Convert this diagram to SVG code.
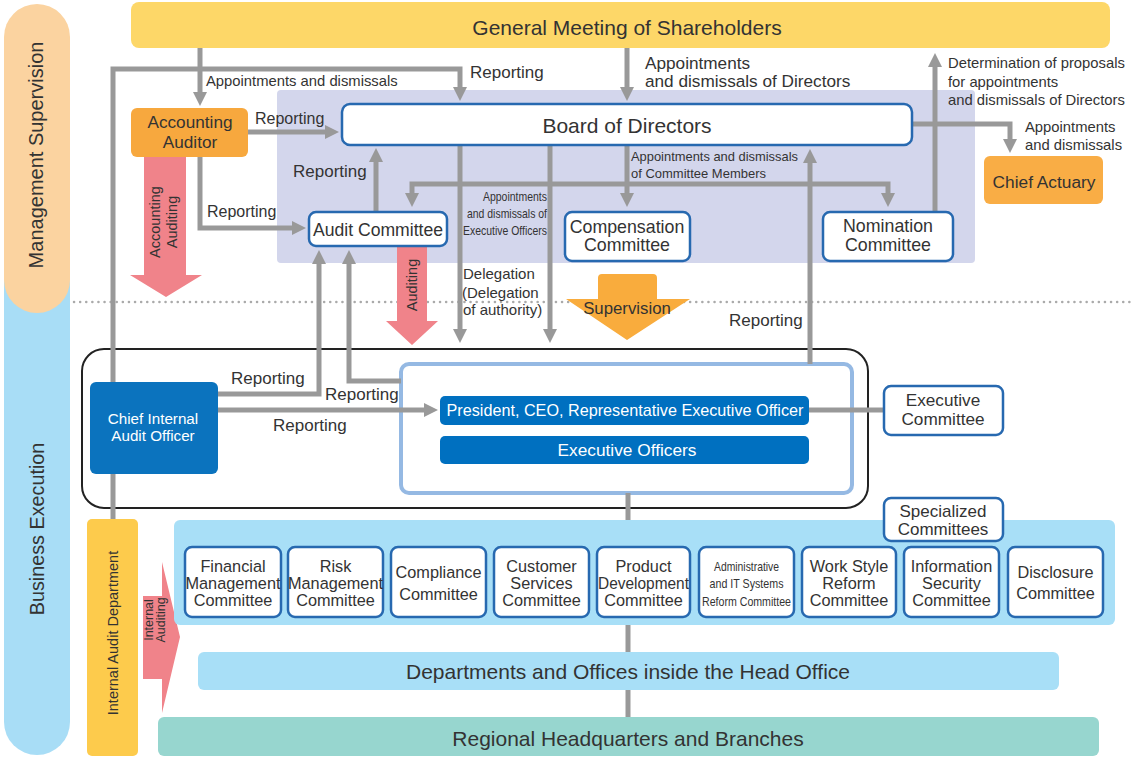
<svg xmlns="http://www.w3.org/2000/svg" width="1132" height="757" viewBox="0 0 1132 757">
<style>
.t{font-family:"Liberation Sans",Arial,sans-serif;fill:#333}
.w{font-family:"Liberation Sans",Arial,sans-serif;fill:#fff}
.m{text-anchor:middle}
.e{text-anchor:end}
.g{stroke:#999;stroke-width:5;fill:none}
.a{marker-end:url(#ah)}
.box{fill:#fff;stroke:#2769B0;stroke-width:2.5}
.cm{fill:#fff;stroke:#2769B0;stroke-width:2.5}
.red{fill:#F0838A}
.ct{font-size:16.3px}
</style>
<defs>
<marker id="ah" markerUnits="userSpaceOnUse" markerWidth="14" markerHeight="14" viewBox="0 0 14 14" refX="5" refY="7" orient="auto">
<path d="M0,0 L14,7 L0,14 z" fill="#999"/>
</marker>
</defs>

<g id="bands">
<rect x="4" y="250" width="66" height="505" rx="33" fill="#A8DDF6"/>
<rect x="4" y="4" width="66" height="309" rx="33" fill="#FBD3A0"/>
<text class="t m" font-size="20" transform="translate(43,155) rotate(-90)">Management Supervision</text>
<text class="t m" font-size="19.8" transform="translate(44,529) rotate(-90)">Business Execution</text>
<line x1="74" y1="302" x2="1132" y2="302" stroke="#aaa" stroke-width="2.5" stroke-dasharray="0.1 6" stroke-linecap="round"/>
<rect x="277" y="90" width="698" height="173" rx="4" fill="#D3D6EC"/>
</g>

<g id="execution-frame">
<rect x="82" y="349" width="786" height="159" rx="22" fill="none" stroke="#222" stroke-width="2"/>
<rect x="401" y="364" width="451" height="129" rx="8" fill="#fff" stroke="#95B9E3" stroke-width="4"/>
</g>

<g id="connectors">
<path class="g a" d="M200,48 V97"/>
<path class="g a" d="M113,519 V69 H460 V92"/>
<path class="g a" d="M627,48 V92"/>
<path class="g a" d="M935,212 V62"/>
<path class="g a" d="M912,124 H1010 V144"/>
<path class="g a" d="M248,132 H330"/>
<path class="g a" d="M200,157 V228 H297"/>
<path class="g a" d="M376,212 V157"/>
<path class="g a" d="M627,145 V198"/>
<path class="g a" d="M627,184 H412 V198"/>
<path class="g a" d="M627,184 H888 V198"/>
<path class="g a" d="M460,145 V334"/>
<path class="g a" d="M550,145 V334"/>
<path class="g a" d="M810,364 V158"/>
<path class="g a" d="M218,394 H319 V259"/>
<path class="g a" d="M401,381 H349 V259"/>
<path class="g a" d="M218,410 H429"/>
<path class="g" d="M808,410 H884"/>
<path class="g" d="M628,493 V717"/>
</g>

<g id="connector-labels">
<text class="t" font-size="14.8" x="206" y="86">Appointments and dismissals</text>
<text class="t" font-size="17" x="470" y="78">Reporting</text>
<text class="t" font-size="17.2" x="645" y="69">Appointments</text>
<text class="t" font-size="17.2" x="645" y="87">and dismissals of Directors</text>
<text class="t" font-size="14.8" x="948" y="68">Determination of proposals</text>
<text class="t" font-size="14.8" x="948" y="87">for appointments</text>
<text class="t" font-size="14.8" x="948" y="105">and dismissals of Directors</text>
<text class="t" font-size="14.8" x="1025" y="132">Appointments</text>
<text class="t" font-size="14.8" x="1025" y="150">and dismissals</text>
<text class="t" font-size="16" x="255" y="124">Reporting</text>
<text class="t" font-size="17" x="293" y="177">Reporting</text>
<text class="t" font-size="16" x="207" y="217">Reporting</text>
<text class="t" font-size="13" x="631" y="161" textLength="167" lengthAdjust="spacingAndGlyphs">Appointments and dismissals</text>
<text class="t" font-size="13" x="631" y="178" textLength="135" lengthAdjust="spacingAndGlyphs">of Committee Members</text>
<text class="t e" font-size="13" x="547" y="201" textLength="64" lengthAdjust="spacingAndGlyphs">Appointments</text>
<text class="t e" font-size="13" x="547" y="218" textLength="80" lengthAdjust="spacingAndGlyphs">and dismissals of</text>
<text class="t e" font-size="13" x="547" y="235" textLength="84" lengthAdjust="spacingAndGlyphs">Executive Officers</text>
<text class="t" font-size="15" x="463" y="279">Delegation</text>
<text class="t" font-size="15" x="462" y="298">(Delegation</text>
<text class="t" font-size="15" x="463" y="315">of authority)</text>
<text class="t" font-size="17" x="729" y="326">Reporting</text>
<text class="t" font-size="17" x="231" y="384">Reporting</text>
<text class="t" font-size="17" x="325" y="400">Reporting</text>
<text class="t" font-size="17" x="273" y="431">Reporting</text>
</g>

<g id="accounting-auditing-arrow">
<path class="red" d="M144,157 H186 V275 H202 L166,297 L130,275 H144 Z"/>
<text class="t m" font-size="14.5" transform="translate(160,222) rotate(-90)">Accounting</text>
<text class="t m" font-size="14.5" transform="translate(177,222) rotate(-90)">Auditing</text>
</g>
<g id="auditing-arrow">
<path class="red" d="M397,246 H427 V321 H438 L412,345 L386,321 H397 Z"/>
<text class="t m" font-size="14.5" transform="translate(417,285) rotate(-90)">Auditing</text>
</g>
<g id="supervision-arrow">
<path d="M602,274 H653 Q657,274 657,278 V299 H690 L627,340 L566,299 H598 V278 Q598,274 602,274 Z" fill="#F9AC3D"/>
<text class="t m" font-size="16.8" x="627" y="314">Supervision</text>
</g>
<g id="internal-auditing-arrow">
<path class="red" d="M143,596 H162 V562 L180,637 L162,713 V679 H143 Z"/>
<text class="t m" font-size="12.5" transform="translate(153,620) rotate(-90)">Internal</text>
<text class="t m" font-size="12.5" transform="translate(165,620) rotate(-90)">Auditing</text>
</g>

<g id="general-meeting">
<rect x="131" y="2" width="979" height="46" rx="8" fill="#FDD768"/>
<text class="t m" font-size="21" x="627" y="35">General Meeting of Shareholders</text>
</g>
<g id="board">
<rect class="box" x="342" y="104" width="570" height="41" rx="8"/>
<text class="t m" font-size="21" x="627" y="133">Board of Directors</text>
</g>
<g id="accounting-auditor">
<rect x="131" y="108" width="117" height="49" rx="6" fill="#F7A83E"/>
<text class="t m" font-size="17.2" x="190" y="128">Accounting</text>
<text class="t m" font-size="17.2" x="190" y="148">Auditor</text>
</g>
<g id="chief-actuary">
<rect x="984" y="156" width="119" height="48" rx="6" fill="#F9AD45"/>
<text class="t m" font-size="17.3" x="1044" y="188">Chief Actuary</text>
</g>
<g id="audit-committee">
<rect class="box" x="309" y="212" width="138" height="34" rx="7"/>
<text class="t m" font-size="17.6" x="378" y="236">Audit Committee</text>
</g>
<g id="compensation-committee">
<rect class="box" x="565" y="212" width="125" height="49" rx="7"/>
<text class="t m" font-size="17.8" x="627" y="233">Compensation</text>
<text class="t m" font-size="17.8" x="627" y="251">Committee</text>
</g>
<g id="nomination-committee">
<rect class="box" x="823" y="212" width="130" height="49" rx="7"/>
<text class="t m" font-size="17.8" x="888" y="232">Nomination</text>
<text class="t m" font-size="17.8" x="888" y="251">Committee</text>
</g>

<g id="chief-internal-audit-officer">
<rect x="90" y="382" width="128" height="92" rx="6" fill="#0B73BE"/>
<text class="w m" font-size="15.2" x="153" y="424">Chief Internal</text>
<text class="w m" font-size="15.2" x="153" y="441">Audit Officer</text>
</g>
<g id="president">
<rect x="440" y="396" width="369" height="29" rx="5" fill="#0070C0"/>
<text class="w m" font-size="16.2" x="625" y="416">President, CEO, Representative Executive Officer</text>
</g>
<g id="executive-officers">
<rect x="440" y="436" width="369" height="28" rx="5" fill="#0070C0"/>
<text class="w m" font-size="17.3" x="627" y="456">Executive Officers</text>
</g>
<g id="executive-committee">
<rect class="box" x="884" y="386" width="119" height="49" rx="7"/>
<text class="t m" font-size="17.2" x="943" y="406">Executive</text>
<text class="t m" font-size="17.2" x="943" y="425">Committee</text>
</g>

<g id="internal-audit-department">
<rect x="87" y="519" width="51" height="237" rx="5" fill="#FDCB4C"/>
<text class="t m" font-size="14.5" transform="translate(118,633) rotate(-90)">Internal Audit Department</text>
</g>

<g id="specialized-area">
<rect x="174" y="520" width="941" height="105" rx="6" fill="#A8DFF7"/>
</g>
<g id="specialized-committees">
<rect class="box" x="884" y="498" width="119" height="43" rx="7"/>
<text class="t m" font-size="17" x="943" y="517">Specialized</text>
<text class="t m" font-size="17" x="943" y="535">Committees</text>
</g>
<g id="financial-management-committee">
<rect class="cm" x="185" y="547" width="96" height="70" rx="7"/>
<text class="t m ct" x="233" y="572">Financial</text>
<text class="t m ct" x="233" y="589">Management</text>
<text class="t m ct" x="233" y="606">Committee</text>
</g>
<g id="risk-management-committee">
<rect class="cm" x="288" y="547" width="95" height="70" rx="7"/>
<text class="t m ct" x="335.5" y="572">Risk</text>
<text class="t m ct" x="335.5" y="589">Management</text>
<text class="t m ct" x="335.5" y="606">Committee</text>
</g>
<g id="compliance-committee">
<rect class="cm" x="391" y="547" width="95" height="70" rx="7"/>
<text class="t m ct" x="438.5" y="578">Compliance</text>
<text class="t m ct" x="438.5" y="600">Committee</text>
</g>
<g id="customer-services-committee">
<rect class="cm" x="494" y="547" width="95" height="70" rx="7"/>
<text class="t m ct" x="541.5" y="572">Customer</text>
<text class="t m ct" x="541.5" y="589">Services</text>
<text class="t m ct" x="541.5" y="606">Committee</text>
</g>
<g id="product-development-committee">
<rect class="cm" x="597" y="547" width="93" height="70" rx="7"/>
<text class="t m ct" x="643.5" y="572">Product</text>
<text class="t m ct" x="643.5" y="589" textLength="91" lengthAdjust="spacingAndGlyphs">Development</text>
<text class="t m ct" x="643.5" y="606">Committee</text>
</g>
<g id="administrative-it-systems-reform-committee">
<rect class="cm" x="699" y="547" width="95" height="70" rx="7"/>
<text class="t m" font-size="13" x="746.5" y="571" textLength="65" lengthAdjust="spacingAndGlyphs">Administrative</text>
<text class="t m" font-size="13" x="746.5" y="588" textLength="74" lengthAdjust="spacingAndGlyphs">and IT Systems</text>
<text class="t m" font-size="13" x="746.5" y="606" textLength="89" lengthAdjust="spacingAndGlyphs">Reform Committee</text>
</g>
<g id="work-style-reform-committee">
<rect class="cm" x="802" y="547" width="94" height="70" rx="7"/>
<text class="t m ct" x="849" y="572">Work Style</text>
<text class="t m ct" x="849" y="589">Reform</text>
<text class="t m ct" x="849" y="606">Committee</text>
</g>
<g id="information-security-committee">
<rect class="cm" x="904" y="547" width="95" height="70" rx="7"/>
<text class="t m ct" x="951.5" y="572">Information</text>
<text class="t m ct" x="951.5" y="589">Security</text>
<text class="t m ct" x="951.5" y="606">Committee</text>
</g>
<g id="disclosure-committee">
<rect class="cm" x="1008" y="547" width="95" height="70" rx="7"/>
<text class="t m ct" x="1055.5" y="578">Disclosure</text>
<text class="t m ct" x="1055.5" y="599">Committee</text>
</g>

<g id="departments">
<rect x="198" y="652" width="861" height="38" rx="6" fill="#A8DFF7"/>
<text class="t m" font-size="21" x="628" y="679">Departments and Offices inside the Head Office</text>
</g>
<g id="regional">
<rect x="158" y="717" width="941" height="39" rx="6" fill="#97D6CF"/>
<text class="t m" font-size="21" x="628" y="746">Regional Headquarters and Branches</text>
</g>
</svg>
